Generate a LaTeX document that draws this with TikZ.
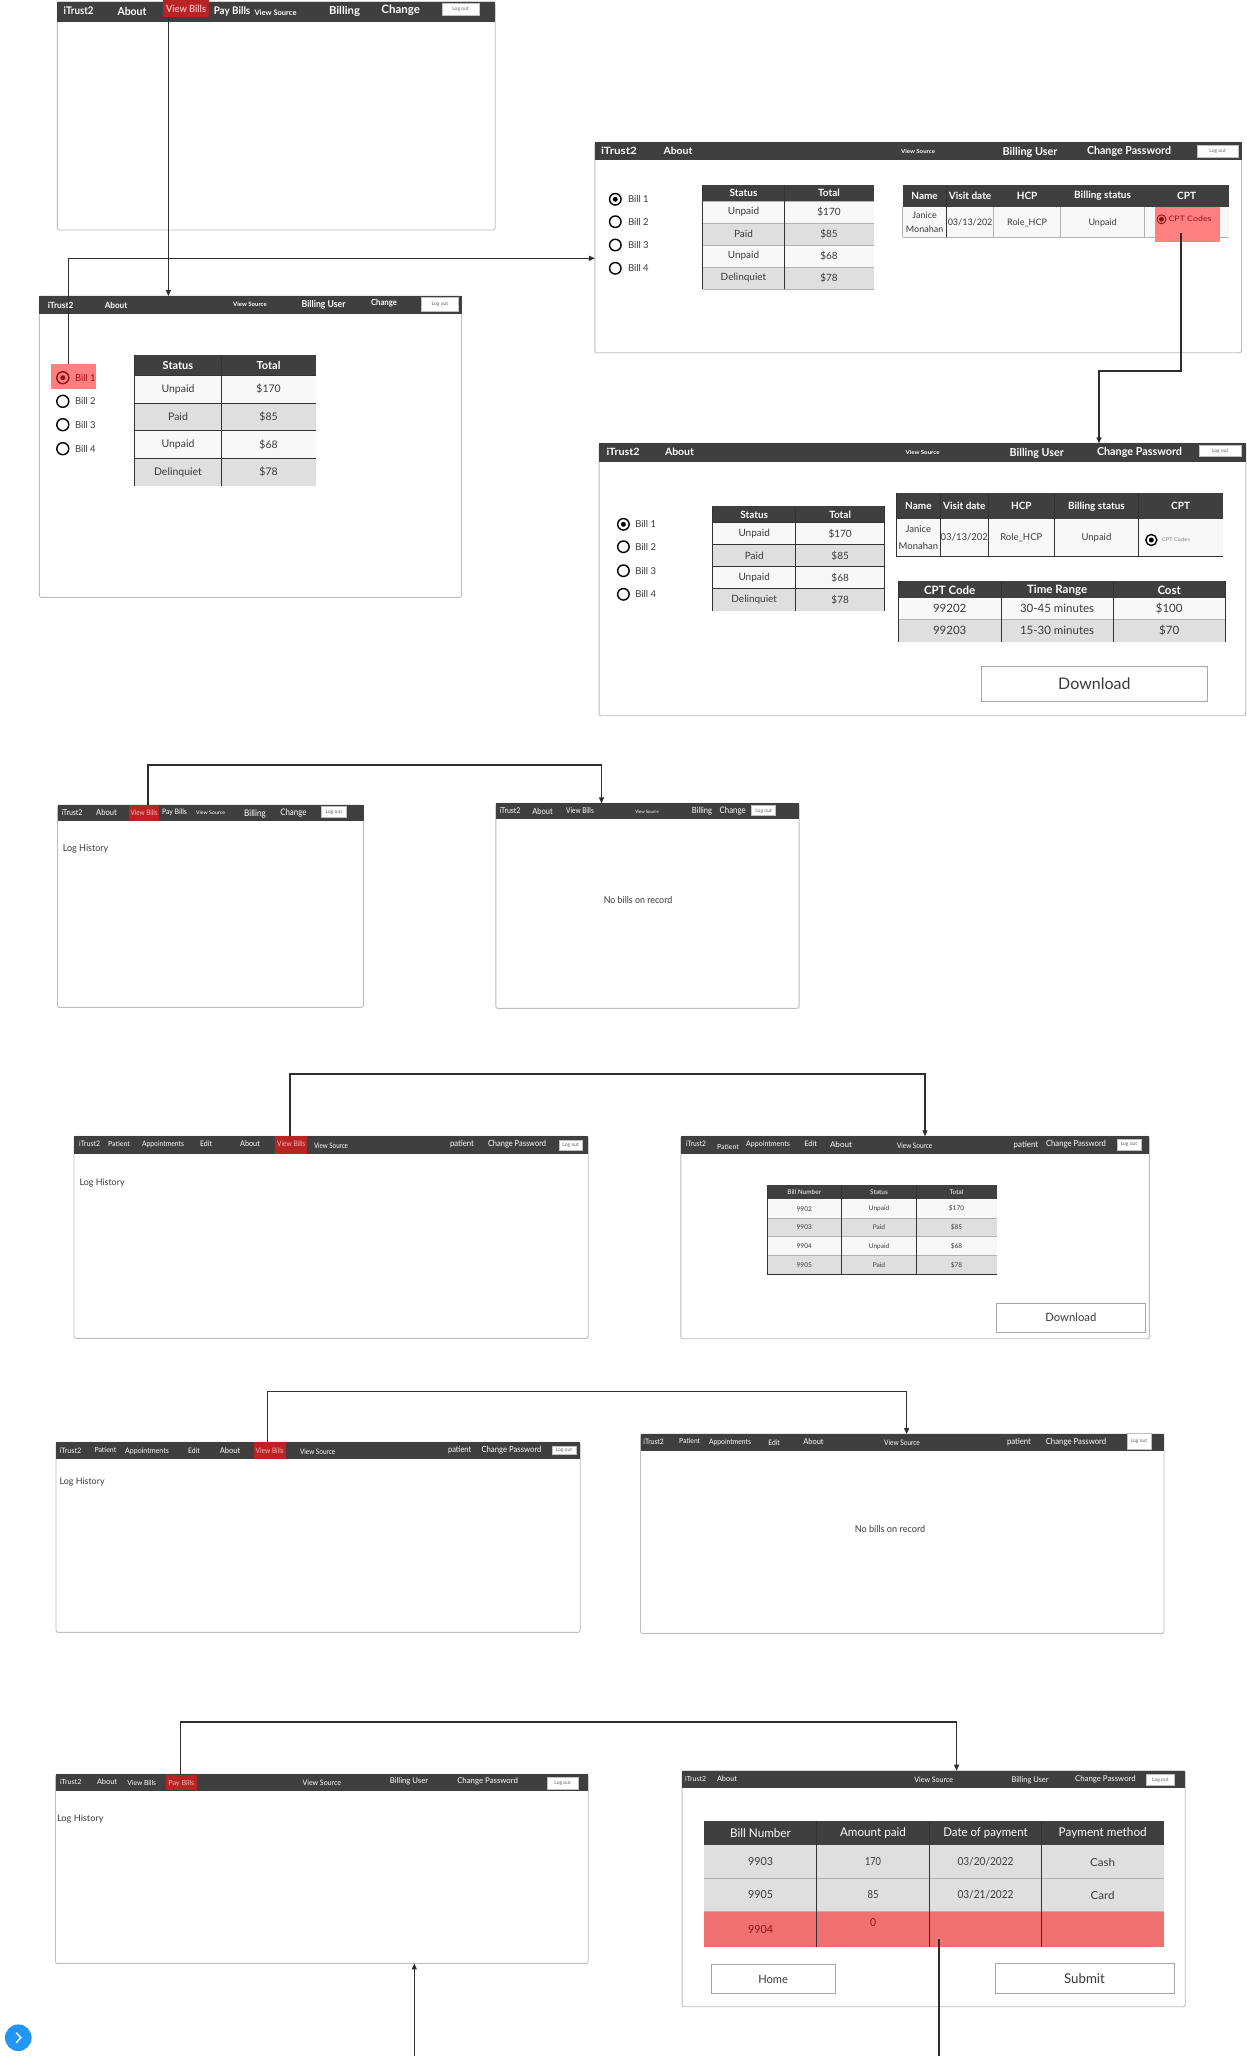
\documentclass[tikz,border=0pt]{standalone}
\usepackage{fontspec}
\setmainfont{Lato}
\usepackage{graphicx}
\usetikzlibrary{arrows.meta,fit,calc}
\definecolor{navbg}{HTML}{3F3F3F}
\definecolor{navred}{HTML}{B82424}
\definecolor{navpink}{HTML}{F5B3B3}
\definecolor{hlred}{HTML}{FF8080}
\definecolor{rowred}{HTML}{EF7171}
\definecolor{dred}{HTML}{8E1414}
\definecolor{bord}{HTML}{BDBDBD}
\definecolor{cw}{HTML}{F8F8F8}
\definecolor{cg}{HTML}{DFDFDF}
\definecolor{txc}{HTML}{3A3A3A}
\definecolor{connc}{HTML}{2E2E2E}
\definecolor{fab}{HTML}{2196F3}
\newcommand\R[7][]{\node[fit={(#3,#4) (#5,#6)},inner sep=0pt,outer sep=0pt,#1] (#2) {#7};}
\newcommand\T[6][]{\node[txt,#1] (#2) at (#3) {\resizebox{#4pt}{\height}{\fontsize{#5}{#5}\selectfont #6}};}
\newcommand\N[5][]{\node[txt,#1] (#2) at (#3) {\fontsize{#4}{#4}\selectfont #5};}
\newcommand\RB[4][]{\node[radio,minimum size=#4pt,#1] (#2) at (#3) {};}
\newcommand\LO[5]{\R[lo]{#1}{#2}{#3}{#4}{#5}{}\node[txt,text=gray!80!black,font=\fontsize{5}{5}\selectfont] (#1t) at (#1.center) {Log out};}
\begin{document}
\begin{tikzpicture}[x=1pt,y=-1pt,
  scr/.style={draw=bord,line width=0.9pt,rounded corners=2pt,fill=white},
  nav/.style={fill=navbg,draw=none},
  navhl/.style={fill=navred,draw=none},
  txt/.style={inner sep=0pt,outer sep=0pt,text=txc},
  lo/.style={fill=white,draw=gray!50,line width=0.5pt},
  btn/.style={fill=white,draw=gray!70,line width=1pt},
  conn/.style={draw=connc,line width=1.2pt},
  arr/.style={-{Triangle[length=6pt,width=5pt]}},
  tl/.style={draw=black!80,line width=0.8pt},
  tlg/.style={draw=gray!60,line width=0.8pt},
  radio/.style={circle,draw=black,line width=1.4pt,fill=white,inner sep=0pt},
  sel/.style={path picture={\fill[#1] (path picture bounding box.center) circle[radius=2.5pt];}}]
\useasboundingbox (0,0) rectangle (1247,2056);
\fill[white] (0,0) rectangle (1247,2056);

% ---------- Screen A ----------
\R[scr]{scrA}{57.4}{1.7}{495.2}{230}{}
\R[nav]{navA}{57.4}{1.7}{495.2}{21.7}{}
\R[navhl]{aVB}{163.4}{0.3}{208.6}{16.7}{}
\T[white,font=\bfseries]{aT1}{78.6,11}{30}{10.5}{iTrust2}
\T[white,font=\bfseries]{aT2}{132,11}{29}{11}{About}
\T[navpink,font=\bfseries]{aT3}{186,8.5}{40}{10}{View Bills}
\T[white,font=\bfseries]{aT4}{232,11.5}{36.5}{10.5}{Pay Bills}
\T[white,font=\bfseries]{aT5}{275.5,12.5}{42}{7.5}{View Source}
\T[white,font=\bfseries]{aT6}{344.5,11}{31}{11}{Billing}
\T[white,font=\bfseries]{aT7}{400.7,10.5}{38.5}{11.5}{Change}
\LO{aLO}{442.4}{3.3}{478.8}{15}

% ---------- Screen B ----------
\R[scr]{scrB}{39.4}{296}{461.5}{597.3}{}
\R[nav]{navB}{39.4}{296}{461.5}{313.7}{}
\T[white,font=\bfseries]{bT1}{60.7,305.5}{25.7}{8.5}{iTrust2}
\T[white,font=\bfseries]{bT2}{116,305.5}{22.5}{8.5}{About}
\T[white,font=\bfseries]{bT3}{250,304.5}{33.6}{6}{View Source}
\T[white,font=\bfseries]{bT4}{323.6,305}{44}{9.5}{Billing User}
\T[white,font=\bfseries]{bT5}{384,303.5}{26}{8.5}{Change}
\LO{bLO}{421.4}{297.3}{458.5}{311.3}
\R[fill=hlred]{bHL}{50.9}{364}{95.7}{388.7}{}
\RB[sel=dred,draw=dred,fill=hlred]{bR1}{62.8,377.7}{12}
\RB{bR2}{62.8,401.3}{12}
\RB{bR3}{62.8,424.7}{12}
\RB{bR4}{62.8,448.7}{12}
\N[anchor=west,text=dred!80!red]{bL1}{75,377.7}{9.5}{Bill 1}
\N[anchor=west]{bL2}{75,401.3}{9.5}{Bill 2}
\N[anchor=west]{bL3}{75,424.7}{9.5}{Bill 3}
\N[anchor=west]{bL4}{75,448.7}{9.5}{Bill 4}
\fill[navbg] (134.3,355.3) rectangle (315.7,375.3);
\foreach \y/\c in {375.3/cw,403/cg,430.7/cw,458.4/cg}{\fill[\c] (134.3,\y) rectangle (315.7,\y+27.7);}
\foreach \y in {375.3,403,430.7,458.4}{\draw[tl] (134.3,\y) -- (315.7,\y);}
\draw[tl] (134.3,355.3) -- (134.3,486) (221.6,355.3) -- (221.6,486);
\N[white,font=\bfseries]{bH1}{178,365.3}{11}{Status}
\N[white,font=\bfseries]{bH2}{268.6,365.3}{11}{Total}
\foreach \a/\b [count=\i] in {Unpaid/\$170,Paid/\$85,Unpaid/\$68,Delinquiet/\$78}{
  \N{bA\i}{178,361.45+27.7*\i}{10.5}{\a}
  \N{bB\i}{268.6,361.45+27.7*\i}{10.5}{\b}}

% ---------- Screen C ----------
\R[scr]{scrC}{594.9}{142.3}{1241.5}{352.7}{}
\R[nav]{navC}{594.9}{142.3}{1241.5}{160}{}
\T[white,font=\bfseries]{cT1}{619,150.5}{36}{10}{iTrust2}
\T[white,font=\bfseries]{cT2}{678,151}{29}{10}{About}
\T[white,font=\bfseries]{cT3}{918,151}{34}{5.5}{View Source}
\T[white,font=\bfseries]{cT4}{1030,152}{55}{11}{Billing User}
\T[white,font=\bfseries]{cT5}{1129,151}{84}{11}{Change Password}
\LO{cLO}{1196.8}{145}{1238.5}{157.3}
\RB[sel=black]{cR1}{615.3,199.3}{11.5}
\RB{cR2}{615.3,221.7}{11.5}
\RB{cR3}{615.3,245}{11.5}
\RB{cR4}{615.3,268.3}{11.5}
\N[anchor=west]{cL1}{628,199.3}{9.5}{Bill 1}
\N[anchor=west]{cL2}{628,221.7}{9.5}{Bill 2}
\N[anchor=west]{cL3}{628,245}{9.5}{Bill 3}
\N[anchor=west]{cL4}{628,268.3}{9.5}{Bill 4}
\fill[navbg] (702.5,185) rectangle (873.5,201);
\foreach \y/\c in {201/cw,223/cg,245/cw,267/cg}{\fill[\c] (702.5,\y) rectangle (873.5,\y+22);}
\foreach \y in {201,223,245,267,289}{\draw[tlg] (702.5,\y) -- (873.5,\y);}
\draw[tl] (702.5,185) -- (702.5,289) (784.6,185) -- (784.6,289);
\N[white,font=\bfseries]{cH1}{743.5,193}{10}{Status}
\N[white,font=\bfseries]{cH2}{829,193}{10}{Total}
\foreach \a/\b [count=\i] in {Unpaid/\$170,Paid/\$85,Unpaid/\$68,Delinquiet/\$78}{
  \N{cA\i}{743.5,190+22*\i}{10}{\a}
  \N{cB\i}{829,190+22*\i}{10}{\b}}
\fill[navbg] (902.5,185) rectangle (1228.7,207.3);
\fill[cw] (902.5,207.3) rectangle (1228.7,237.3);
\draw[tlg] (902.5,237.3) -- (1228.7,237.3) (902.5,207.3) -- (902.5,237.3) (993.5,207.3) -- (993.5,237.3) (1060.7,207.3) -- (1060.7,237.3) (1144.5,207.3) -- (1144.5,237.3);
\draw[tl] (946.7,185) -- (946.7,237.3);
\N[white,font=\bfseries]{cH3}{924.6,196}{10}{Name}
\N[white,font=\bfseries]{cH4}{970.1,196}{10}{Visit date}
\N[white,font=\bfseries]{cH5}{1027.1,196}{10}{HCP}
\N[white,font=\bfseries]{cH6}{1102.6,196}{10}{Billing status}
\N[white,font=\bfseries]{cH7}{1186.6,196}{10}{CPT}
\N{cD1}{924.6,215}{9}{Janice}
\N{cD2}{924.6,229}{9}{Monahan}
\N{cD3}{970.1,222.5}{9}{03/13/202}
\N{cD4}{1027.1,222.5}{9}{Role\_HCP}
\N{cD5}{1102.6,222.5}{9}{Unpaid}
\R[fill=hlred]{cHL}{1155}{207.3}{1220.2}{241.7}{}
\RB[sel=dred,draw=dred,line width=0.9pt,fill=hlred]{cR5}{1161.5,219.3}{9}
\T[anchor=west,text=dred!80!red]{cCPT}{1168.5,219}{43}{7.5}{CPT Codes}

% ---------- Screen D ----------
\R[scr]{scrD}{599.1}{443.3}{1245.8}{715.7}{}
\R[nav]{navD}{599.1}{443.3}{1245.8}{461.7}{}
\T[white,font=\bfseries]{dT1}{623,451.5}{33}{10}{iTrust2}
\T[white,font=\bfseries]{dT2}{679.5,452.3}{29}{10}{About}
\T[white,font=\bfseries]{dT3}{922.5,452}{34}{5.5}{View Source}
\T[white,font=\bfseries]{dT4}{1036.7,453.5}{54}{11}{Billing User}
\T[white,font=\bfseries]{dT5}{1139.5,452.5}{85}{11}{Change Password}
\LO{dLO}{1199}{445.7}{1241.5}{456.7}
\RB[sel=black]{dR1}{623.4,524.3}{11.5}
\RB{dR2}{623.4,546.7}{11.5}
\RB{dR3}{623.4,570.7}{11.5}
\RB{dR4}{623.4,594.3}{11.5}
\N[anchor=west]{dL1}{635.3,524.3}{9.5}{Bill 1}
\N[anchor=west]{dL2}{635.3,546.7}{9.5}{Bill 2}
\N[anchor=west]{dL3}{635.3,570.7}{9.5}{Bill 3}
\N[anchor=west]{dL4}{635.3,594.3}{9.5}{Bill 4}
\fill[navbg] (712.7,506.3) rectangle (884.6,522.7);
\foreach \y/\c in {522.7/cw,544.7/cg,566.7/cw,588.7/cg}{\fill[\c] (712.7,\y) rectangle (884.6,\y+22);}
\foreach \y in {522.7,544.7,566.7,588.7}{\draw[tl] (712.7,\y) -- (884.6,\y);}
\draw[tl] (712.7,506.3) -- (712.7,610.7) (795.7,506.3) -- (795.7,610.7) (884.6,506.3) -- (884.6,610.7);
\N[white,font=\bfseries]{dH1}{754.2,514.5}{10}{Status}
\N[white,font=\bfseries]{dH2}{840.15,514.5}{10}{Total}
\foreach \a/\b [count=\i] in {Unpaid/\$170,Paid/\$85,Unpaid/\$68,Delinquiet/\$78}{
  \N{dA\i}{754.2,511.7+22*\i}{10}{\a}
  \N{dB\i}{840.15,511.7+22*\i}{10}{\b}}
\fill[navbg] (896.5,493.3) rectangle (1222.8,519.3);
\fill[cw] (896.5,519.3) rectangle (1222.8,556.3);
\draw[tl] (896.5,493.3) -- (896.5,556.3) -- (1222.8,556.3);
\draw[tl] (940.3,493.3) -- (940.3,556.3) (988.4,493.3) -- (988.4,556.3) (1054.3,493.3) -- (1054.3,556.3) (1138.5,493.3) -- (1138.5,556.3);
\N[white,font=\bfseries]{dH3}{918.4,506.3}{10}{Name}
\N[white,font=\bfseries]{dH4}{964.3,506.3}{10}{Visit date}
\N[white,font=\bfseries]{dH5}{1021.3,506.3}{10}{HCP}
\N[white,font=\bfseries]{dH6}{1096.4,506.3}{10}{Billing status}
\N[white,font=\bfseries]{dH7}{1180.6,506.3}{10}{CPT}
\N{dD1}{918.4,529}{9.5}{Janice}
\N{dD2}{918.4,546}{9.5}{Monahan}
\N{dD3}{964.3,537.5}{9.5}{03/13/202}
\N{dD4}{1021.3,537.5}{9.5}{Role\_HCP}
\N{dD5}{1096.4,537.5}{9.5}{Unpaid}
\RB[sel=black]{dR5}{1151.3,540}{11}
\T[anchor=west,text=gray]{dCPT}{1162,540}{28}{5}{CPT Codes}
\fill[navbg] (898.2,581) rectangle (1225.3,597.7);
\fill[cw] (898.2,597.7) rectangle (1225.3,619.3);
\fill[cg] (898.2,619.3) rectangle (1225.3,641.7);
\draw[tlg] (898.2,619.3) -- (1225.3,619.3);
\draw[tl] (898.2,581) -- (898.2,641.7) (1001.2,581) -- (1001.2,641.7) (1113,581) -- (1113,641.7) (1225.3,581) -- (1225.3,641.7);
\N[white,font=\bfseries]{dH8}{949.7,590}{11.5}{CPT Code}
\N[white,font=\bfseries]{dH9}{1057.1,590}{11.5}{Time Range}
\N[white,font=\bfseries]{dH10}{1169.2,590}{11.5}{Cost}
\N{dE1}{949.7,608.5}{11.5}{99202}
\N{dE2}{1057.1,608.5}{11.5}{30-45 minutes}
\N{dE3}{1169.2,608.5}{11.5}{\$100}
\N{dE4}{949.7,630.5}{11.5}{99203}
\N{dE5}{1057.1,630.5}{11.5}{15-30 minutes}
\N{dE6}{1169.2,630.5}{11.5}{\$70}
\R[btn]{dDL}{981.2}{666.7}{1207.5}{701}{}
\N{dDLt}{dDL.center}{16}{Download}

% ---------- Screen E ----------
\R[scr]{scrE}{57.5}{805}{363.5}{1007.3}{}
\R[nav]{navE}{57.5}{805}{363.5}{821}{}
\R[navhl]{eVB}{129.2}{805}{159}{821}{}
\T[white]{eT1}{72,812.5}{21}{8}{iTrust2}
\T[white]{eT2}{106.5,812.5}{20.6}{8.5}{About}
\T[navpink]{eT3}{144.1,813}{27}{7.5}{View Bills}
\T[white]{eT4}{174.5,812.5}{24.7}{7.5}{Pay Bills}
\T[white]{eT5}{210.6,813}{29}{5}{View Source}
\T[white]{eT6}{255,813.5}{21.7}{9}{Billing}
\T[white]{eT7}{293.4,812.5}{26.2}{9}{Change}
\LO{eLO}{321.6}{806.7}{346.2}{817.7}
\T[anchor=west]{eLH}{62.8,849}{45.5}{9.5}{Log History}

% ---------- Screen F ----------
\R[scr]{scrF}{495.8}{803.3}{799.1}{1008.3}{}
\R[nav]{navF}{495.8}{803.3}{799.1}{819}{}
\T[white]{fT1}{510,811}{21}{8}{iTrust2}
\T[white]{fT2}{542.6,811}{20.4}{8.5}{About}
\T[white]{fT3}{580,811}{27.6}{8}{View Bills}
\T[white]{fT4}{647,811.5}{23.5}{4.5}{View Source}
\T[white]{fT5}{702,811.5}{20.3}{8.5}{Billing}
\T[white]{fT6}{732.7,810.5}{26}{9}{Change}
\LO{fLO}{751.6}{805.7}{775.6}{815.7}
\T{fNB}{638,900.3}{68.5}{9.5}{No bills on record}

% ---------- Screen G ----------
\R[scr]{scrG}{74}{1136.3}{588.2}{1338.3}{}
\R[nav]{navG}{74}{1136.3}{588.2}{1154.3}{}
\R[navhl]{gVB}{275.4}{1136.3}{307}{1154.3}{}
\T[white]{gT1}{89.6,1143.5}{21}{7.5}{iTrust2}
\T[white]{gT2}{119,1143.5}{22}{7}{Patient}
\T[white]{gT3}{163,1144}{42}{7.5}{Appointments}
\T[white]{gT4}{206,1143.5}{12}{7.5}{Edit}
\T[white]{gT5}{250,1143.5}{19.7}{8}{About}
\T[navpink]{gT6}{291.2,1144}{28}{7.5}{View Bills}
\T[white]{gT7}{331,1145.5}{34}{7.5}{View Source}
\T[white]{gT8}{462,1144.5}{24}{8.5}{patient}
\T[white]{gT9}{517,1144}{58}{8.5}{Change Password}
\LO{gLO}{558.8}{1140}{582.6}{1150.7}
\T[anchor=west]{gLH}{79.6,1183}{45}{9}{Log History}

% ---------- Screen H ----------
\R[scr]{scrH}{680.8}{1136.3}{1149.4}{1338.7}{}
\R[nav]{navH}{680.8}{1136.3}{1149.4}{1154.3}{}
\T[white]{hT1}{696,1143.5}{20}{7.5}{iTrust2}
\T[white]{hT2}{728,1146.5}{21.7}{7}{Patient}
\T[white]{hT3}{768,1144.5}{43.6}{7.5}{Appointments}
\T[white]{hT4}{810.7,1144}{12.7}{7.5}{Edit}
\T[white]{hT5}{841,1145}{22}{8}{About}
\T[white]{hT6}{914.6,1145.5}{35}{7.5}{View Source}
\T[white]{hT7}{1026,1145}{24.6}{8.5}{patient}
\T[white]{hT8}{1076,1144.5}{60}{8.5}{Change Password}
\LO{hLO}{1117}{1139.3}{1141}{1150}
\fill[navbg] (767,1185.3) rectangle (996.5,1199.3);
\foreach \y/\c in {1199.3/cw,1218.05/cg,1236.8/cw,1255.55/cg}{\fill[\c] (767,\y) rectangle (996.5,\y+18.75);}
\foreach \y in {1218.05,1236.8,1255.55}{\draw[tlg] (767,\y) -- (996.5,\y);}
\draw[tl] (767,1274.3) -- (996.5,1274.3);
\draw[tl] (767,1185.3) -- (767,1274.3) (841.5,1185.3) -- (841.5,1274.3) (916.5,1185.3) -- (916.5,1274.3);
\N[white]{hH1}{804.25,1192.3}{6.5}{Bill Number}
\N[white]{hH2}{879,1192.3}{6.5}{Status}
\N[white]{hH3}{956.5,1192.3}{6.5}{Total}
\foreach \a/\b/\c [count=\i] in {9902/Unpaid/\$170,9903/Paid/\$85,9904/Unpaid/\$68,9905/Paid/\$78}{
  \N{hA\i}{804.25,1189.925+18.75*\i}{6.5}{\a}
  \N{hB\i}{879,1189.925+18.75*\i}{6.5}{\b}
  \N{hC\i}{956.5,1189.925+18.75*\i}{6.5}{\c}}
\R[btn]{hDL}{996.5}{1303}{1145.2}{1332.3}{}
\T{hDLt}{hDL.center}{51}{11.5}{Download}

% ---------- Screen I ----------
\R[scr]{scrI}{56}{1442.3}{580.2}{1632.3}{}
\R[nav]{navI}{56}{1442.3}{580.2}{1459.3}{}
\R[navhl]{iVB}{253.7}{1442.3}{285.7}{1459.3}{}
\T[white]{iT1}{70.5,1450.5}{21.8}{7.5}{iTrust2}
\T[white]{iT2}{105.4,1449.5}{21.8}{7}{Patient}
\T[white]{iT3}{147,1451}{43.7}{7.5}{Appointments}
\T[white]{iT4}{194,1451}{11.7}{7.5}{Edit}
\T[white]{iT5}{230,1450.5}{20.4}{8}{About}
\T[navpink]{iT6}{269.7,1451}{28}{7.5}{View Bills}
\T[white]{iT7}{317.6,1451.5}{35}{7.5}{View Source}
\T[white]{iT8}{459.7,1450.5}{23}{8.5}{patient}
\T[white]{iT9}{511.5,1450.5}{60}{8.5}{Change Password}
\LO{iLO}{552}{1446}{575.8}{1454.3}
\T[anchor=west]{iLH}{59.6,1481.7}{45}{9}{Log History}

% ---------- Screen J ----------
\R[scr]{scrJ}{640.5}{1434}{1164}{1633.3}{}
\R[nav]{navJ}{640.5}{1434}{1164}{1451}{}
\T[white]{jT1}{653.6,1442}{20.4}{7.5}{iTrust2}
\T[white]{jT2}{689.6,1441}{21}{7}{Patient}
\T[white]{jT3}{730,1442.5}{42}{7.5}{Appointments}
\T[white]{jT4}{774,1443}{11.5}{7.5}{Edit}
\T[white]{jT5}{813.5,1442}{20.3}{8}{About}
\T[white]{jT6}{902,1442.5}{35.7}{7.5}{View Source}
\T[white]{jT7}{1019,1442.5}{24}{8.5}{patient}
\T[white]{jT8}{1076,1442.5}{60.5}{8.5}{Change Password}
\LO{jLO}{1127}{1433.3}{1151}{1449.3}
\T{jNB}{890,1529.3}{70.5}{9.5}{No bills on record}

% ---------- Screen K ----------
\R[scr]{scrK}{55.5}{1774.3}{588.2}{1963.3}{}
\R[nav]{navK}{55.5}{1774.3}{588.2}{1791}{}
\R[navhl]{kPB}{165.8}{1775}{196.8}{1790.3}{}
\T[white]{kT1}{70.7,1782}{21.4}{7}{iTrust2}
\T[white]{kT2}{107,1781.5}{20}{7.5}{About}
\T[white]{kT3}{141.7,1782.5}{28.7}{7}{View Bills}
\T[navpink]{kT4}{181.3,1783}{26}{7}{Pay Bills}
\T[white]{kT5}{321.8,1782.5}{38.4}{7.5}{View Source}
\T[white]{kT6}{409,1781.5}{38.4}{8}{Billing User}
\T[white]{kT7}{487.6,1781.5}{60.7}{8}{Change Password}
\LO{kLO}{547.5}{1777.3}{577.8}{1789.3}
\T[anchor=west]{kLH}{57,1819.3}{46.6}{9}{Log History}

% ---------- Screen L ----------
\R[scr]{scrL}{682.1}{1770.7}{1185.2}{2006.7}{}
\R[nav]{navL}{682.1}{1770.7}{1185.2}{1788}{}
\T[white]{lT1}{695.6,1779.3}{21}{7}{iTrust2}
\T[white]{lT2}{727,1779}{20}{7.5}{About}
\T[white]{lT3}{933.7,1779.3}{38.6}{7.5}{View Source}
\T[white]{lT4}{1030,1780}{37}{8}{Billing User}
\T[white]{lT5}{1105.4,1779.3}{60.6}{8}{Change Password}
\LO{lLO}{1146.7}{1774}{1174}{1785.3}
\fill[navbg] (704.3,1821) rectangle (1163.8,1845.3);
\fill[cg] (704.3,1845.3) rectangle (1163.8,1911.3);
\R[fill=rowred]{lRed}{704.3}{1911.3}{1163.8}{1946.7}{}
\draw[tlg] (704.3,1878.3) -- (1163.8,1878.3) (704.3,1911.3) -- (1163.8,1911.3);
\draw[tl] (816.8,1821) -- (816.8,1946.7) (929.2,1821) -- (929.2,1946.7) (1041.7,1821) -- (1041.7,1946.7);
\T[white]{lH1}{760.5,1833}{60.7}{12}{Bill Number}
\T[white]{lH2}{873,1833}{65.8}{12}{Amount paid}
\T[white]{lH3}{985.5,1833}{84.3}{12}{Date of payment}
\T[white]{lH4}{1102.7,1833}{88}{12}{Payment method}
\T{lA1}{760.5,1862}{25}{11}{9903}
\T{lA2}{873,1862}{16}{11}{170}
\T{lA3}{985.5,1862}{56}{11}{03/20/2022}
\T{lA4}{1102.7,1862}{25}{11}{Cash}
\T{lB1}{760.5,1895}{25}{11}{9905}
\T{lB2}{873,1895}{11}{11}{85}
\T{lB3}{985.5,1895}{56}{11}{03/21/2022}
\T{lB4}{1102.7,1895}{24}{11}{Card}
\T[text=dred]{lC1}{760.5,1930}{25}{11}{9904}
\T[text=dred]{lC2}{873,1922.7}{6}{11}{0}
\R[btn]{lHome}{711}{1964.7}{835.3}{1993.3}{}
\T{lHomet}{lHome.center}{29.6}{11.5}{Home}
\R[btn]{lSub}{995}{1963.3}{1174}{1993.3}{}
\T{lSubt}{lSub.center}{40.7}{13.5}{Submit}

% ---------- floating button ----------
\node[circle,fill=fab,minimum size=26.6pt,inner sep=0pt] (fab) at (18.3,2037.7) {};
\draw[white,line width=1.4pt] ([xshift=-2.2pt,yshift=5pt]fab.center) -- ([xshift=2.6pt]fab.center) -- ([xshift=-2.2pt,yshift=-5pt]fab.center);

% ---------- connectors ----------
\draw[conn,arr] ([xshift=-17.6pt]aVB.south) -- ([xshift=-17.6pt]aVB.south |- scrB.north);
\draw[conn,arr] ([xshift=17.2pt]bHL.north west) |- ([yshift=-10.8pt]scrC.west);
\coordinate (cdb) at (1099,371);
\draw[conn,arr] ([xshift=-6.6pt,yshift=8.7pt]cHL.south) |- (cdb) -- (cdb |- scrD.north);
\coordinate (efb) at (601.5,765);
\draw[conn,arr] ([xshift=3.9pt]eVB.north) |- (efb) -- (efb |- scrF.north);
\coordinate (ghb) at (925,1074);
\draw[conn,arr] ([xshift=-1.2pt]gVB.north) |- (ghb) -- (ghb |- scrH.north);
\coordinate (ijb) at (906.6,1391.3);
\draw[conn,arr] ([xshift=-2.1pt]iVB.north) |- (ijb) -- (ijb |- scrJ.north);
\coordinate (klb) at (956.6,1722);
\draw[conn,arr] ([xshift=-0.7pt]kPB.north) |- (klb) -- (klb |- scrL.north);
\coordinate (kin) at (414.3,2056);
\draw[conn,arr] (kin) -- (kin |- scrK.south);
\coordinate (lout) at (938.9,2056);
\draw[conn] ([yshift=-10pt]lRed.center -| lout) -- (lout);
\end{tikzpicture}
\end{document}
